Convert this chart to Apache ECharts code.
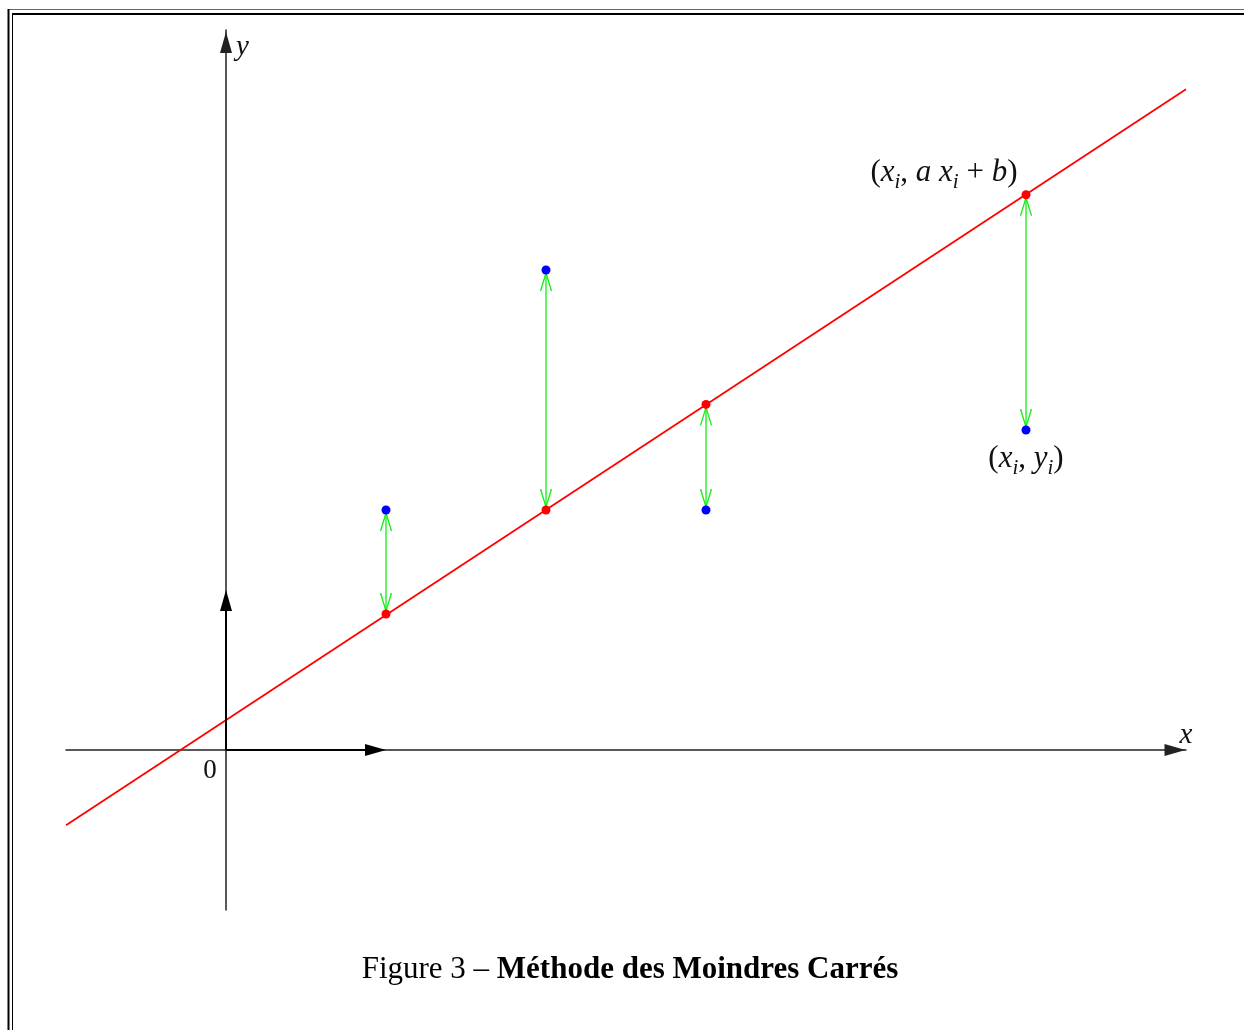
<!DOCTYPE html>
<html>
<head>
<meta charset="utf-8">
<title>Méthode des Moindres Carrés</title>
<script src="https://cdn.jsdelivr.net/npm/echarts@6/dist/echarts.min.js"></script>
<style>
  html, body { margin: 0; padding: 0; background: #fff; }
  #chart { width: 1244px; height: 1030px; }
</style>
</head>
<body>
<div id="chart"></div>
<script>
  // points observés (x_i, y_i)
  const xs = [1, 2, 3, 5]
  const ys = [1.5, 3, 1.5, 2]
  const fitted = [0.85, 1.5, 2.16, 3.47]
  // extrémités de la droite
  const lineEnds = [[-1, -0.47], [6, 4.13]]
  // vecteurs unitaires [x0, y0, x1, y1]
  const unitVectors = [[0, 0, 1, 0], [0, 0, 0, 1]]
  const origin = [[0, 0]]
  // point qui porte les étiquettes
  const labelIndex = 3

  const serif = '"Liberation Serif", "DejaVu Serif", serif'
  const green = '#11ee11'

  // tête de flèche : trois points, pointe en tip, direction dir
  function head (tip, dir, len, half) {
    const bx = tip[0] - dir[0] * len
    const by = tip[1] - dir[1] * len
    const nx = -dir[1]
    const ny = dir[0]
    return [[bx + nx * half, by + ny * half], tip, [bx - nx * half, by - ny * half]]
  }

  function unit (p, q) {
    const dx = q[0] - p[0]
    const dy = q[1] - p[1]
    const l = Math.sqrt(dx * dx + dy * dy) || 1
    return [dx / l, dy / l]
  }

  const mathRich = {
    p: { fontFamily: serif, fontSize: 31, color: '#111', lineHeight: 40 },
    v: { fontFamily: serif, fontSize: 31, fontStyle: 'italic', color: '#111', lineHeight: 40 },
    s: { fontFamily: serif, fontSize: 21, fontStyle: 'italic', color: '#111', lineHeight: 22, verticalAlign: 'bottom' }
  }

  const chart = echarts.init(document.getElementById('chart'))

  const option = {
    animation: false,
    grid: { left: 66, right: 58, top: 30, bottom: 120 },
    xAxis: {
      type: 'value',
      min: -1,
      max: 6,
      interval: 1,
      name: 'x',
      nameLocation: 'end',
      nameGap: 0,
      nameTextStyle: { fontFamily: serif, fontStyle: 'italic', fontSize: 29, color: '#111', align: 'center', verticalAlign: 'bottom' },
      axisLine: {
        show: true,
        onZero: true,
        symbol: ['none', 'triangle'],
        symbolSize: [12, 21],
        symbolOffset: [0, -11],
        lineStyle: { color: '#222', width: 1.5 }
      },
      axisTick: { show: false },
      splitLine: { show: false },
      axisLabel: { show: false }
    },
    yAxis: {
      type: 'value',
      min: -1,
      max: 4.5,
      name: 'y',
      nameLocation: 'end',
      nameGap: -17,
      nameTextStyle: { fontFamily: serif, fontStyle: 'italic', fontSize: 29, color: '#111', align: 'left', verticalAlign: 'middle', padding: [0, 0, 0, 10] },
      axisLine: {
        show: true,
        onZero: true,
        symbol: ['none', 'triangle'],
        symbolSize: [12, 21],
        symbolOffset: [0, -12.5],
        lineStyle: { color: '#222', width: 1.5 }
      },
      axisTick: { show: false },
      splitLine: { show: false },
      axisLabel: { show: false }
    },
    graphic: [
      // cadre double
      { type: 'line', shape: { x1: 8, y1: 9.5, x2: 1244, y2: 9.5 }, style: { stroke: '#666', lineWidth: 1 } },
      { type: 'line', shape: { x1: 12, y1: 14, x2: 1244, y2: 14 }, style: { stroke: '#000', lineWidth: 2 } },
      { type: 'line', shape: { x1: 8.5, y1: 9, x2: 8.5, y2: 1030 }, style: { stroke: '#000', lineWidth: 2 } },
      { type: 'line', shape: { x1: 12.5, y1: 14, x2: 12.5, y2: 1030 }, style: { stroke: '#000', lineWidth: 1 } },
      {
        type: 'text',
        x: 630,
        y: 970,
        style: {
          text: '{n|Figure 3 – }{b|Méthode des Moindres Carrés}',
          align: 'center',
          verticalAlign: 'middle',
          rich: {
            n: { fontFamily: serif, fontSize: 31, color: '#111' },
            b: { fontFamily: serif, fontSize: 31, fontWeight: 'bold', color: '#111' }
          }
        }
      }
    ],
    series: [
      {
        name: 'droite',
        type: 'line',
        data: lineEnds,
        symbol: 'none',
        lineStyle: { color: '#ff0000', width: 1.8 },
        z: 2
      },
      {
        name: 'unitaires',
        type: 'custom',
        data: unitVectors,
        z: 3,
        renderItem: function (params, api) {
          const p0 = api.coord([api.value(0), api.value(1)])
          const p1 = api.coord([api.value(2), api.value(3)])
          const d = unit(p0, p1)
          const len = 21
          return {
            type: 'group',
            children: [
              {
                type: 'line',
                shape: { x1: p0[0], y1: p0[1], x2: p1[0] - d[0] * len, y2: p1[1] - d[1] * len },
                style: { stroke: '#000', lineWidth: 2 }
              },
              {
                type: 'polygon',
                shape: { points: head(p1, d, len, 6) },
                style: { fill: '#000', stroke: 'none' }
              }
            ]
          }
        }
      },
      {
        name: 'ecarts',
        type: 'custom',
        data: xs.map((x, i) => [x, fitted[i], ys[i]]),
        z: 4,
        renderItem: function (params, api) {
          const x = api.value(0)
          const p1 = api.coord([x, api.value(1)])
          const p2 = api.coord([x, api.value(2)])
          const d = unit(p1, p2)
          const tip2 = [p2[0] - d[0] * 3, p2[1] - d[1] * 3]
          const tip1 = [p1[0] + d[0] * 3, p1[1] + d[1] * 3]
          const st = { stroke: green, lineWidth: 1.3, fill: 'none' }
          return {
            type: 'group',
            children: [
              { type: 'line', shape: { x1: tip1[0], y1: tip1[1], x2: tip2[0], y2: tip2[1] }, style: st },
              { type: 'polyline', shape: { points: head(tip2, d, 18, 5.5) }, style: st },
              { type: 'polyline', shape: { points: head(tip1, [-d[0], -d[1]], 18, 5.5) }, style: st }
            ]
          }
        }
      },
      {
        name: 'origine',
        type: 'scatter',
        symbolSize: 0,
        data: origin,
        z: 5,
        silent: true,
        itemStyle: { opacity: 1 },
        label: {
          show: true,
          position: 'inside',
          offset: [-16, 21],
          formatter: '0',
          fontFamily: serif,
          fontSize: 27,
          color: '#111'
        }
      },
      {
        name: 'ajustés',
        type: 'scatter',
        symbolSize: 9,
        itemStyle: { color: '#ff0000', opacity: 1 },
        z: 5,
        data: xs.map((x, i) => {
          const item = { value: [x, fitted[i]] }
          if (i === labelIndex) {
            item.label = {
              show: true,
              position: 'left',
              distance: 4,
              offset: [0, -22],
              formatter: '{p|(}{v|x}{s|i}{p|, }{v|a x}{s|i}{p| + }{v|b}{p|)}',
              rich: mathRich
            }
          }
          return item
        })
      },
      {
        name: 'observés',
        type: 'scatter',
        symbolSize: 9,
        itemStyle: { color: '#0000ff', opacity: 1 },
        z: 5,
        data: xs.map((x, i) => {
          const item = { value: [x, ys[i]] }
          if (i === labelIndex) {
            item.label = {
              show: true,
              position: 'bottom',
              distance: 4,
              formatter: '{p|(}{v|x}{s|i}{p|, }{v|y}{s|i}{p|)}',
              rich: mathRich
            }
          }
          return item
        })
      }
    ]
  }

  chart.setOption(option)
</script>
</body>
</html>
